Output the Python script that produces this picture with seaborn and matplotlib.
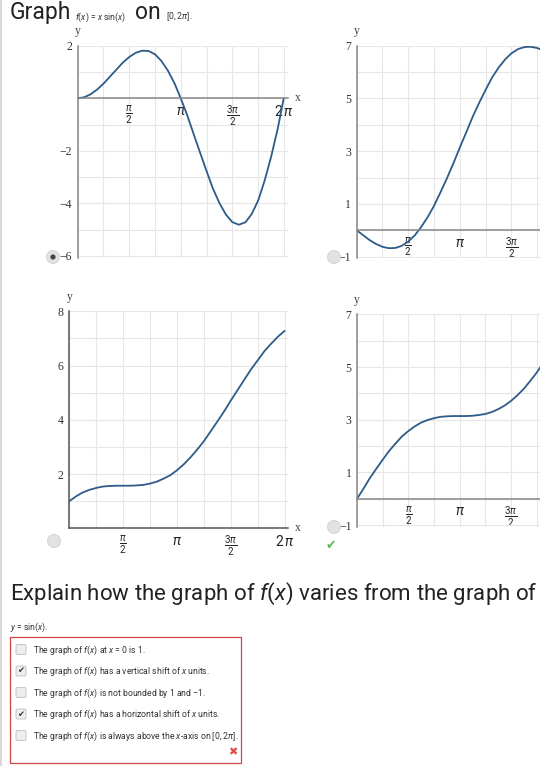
import numpy as np
import matplotlib.pyplot as plt
from matplotlib.patches import Circle, FancyBboxPatch, Rectangle
import seaborn as sns

# x positions along [0, 2pi] (steps of pi/16)
x_vals = [0.00, 0.20, 0.39, 0.59, 0.79, 0.98, 1.18, 1.37, 1.57, 1.77, 1.96,
          2.16, 2.36, 2.55, 2.75, 2.95, 3.14, 3.34, 3.53, 3.73, 3.93, 4.12,
          4.32, 4.52, 4.71, 4.91, 5.11, 5.30, 5.50, 5.69, 5.89, 6.09, 6.28]

# top-left graph
curve_a = [0.00, 0.04, 0.15, 0.33, 0.56, 0.82, 1.09, 1.35, 1.57, 1.73, 1.81,
           1.80, 1.67, 1.42, 1.05, 0.57, 0.00, -0.65, -1.35, -2.07, -2.78, -3.43,
           -3.99, -4.43, -4.71, -4.81, -4.72, -4.41, -3.89, -3.16, -2.25, -1.19, 0.00]
# top-right graph
curve_b = [0.00, -0.19, -0.37, -0.52, -0.63, -0.68, -0.67, -0.59, -0.43, -0.19, 0.12,
           0.50, 0.94, 1.44, 1.98, 2.56, 3.14, 3.73, 4.30, 4.84, 5.34, 5.79,
           6.17, 6.48, 6.71, 6.87, 6.95, 6.96, 6.91, 6.81, 6.66, 6.48, 6.28]
# bottom-left graph
curve_c = [1.00, 1.18, 1.32, 1.42, 1.49, 1.54, 1.56, 1.57, 1.57, 1.57, 1.58,
           1.60, 1.65, 1.72, 1.83, 1.96, 2.14, 2.36, 2.61, 2.90, 3.22, 3.57,
           3.94, 4.32, 4.71, 5.10, 5.49, 5.86, 6.20, 6.53, 6.81, 7.07, 7.28]
# bottom-right graph
curve_d = [0.00, 0.39, 0.78, 1.14, 1.49, 1.81, 2.10, 2.36, 2.57, 2.75, 2.89,
           2.99, 3.06, 3.11, 3.13, 3.14, 3.14, 3.14, 3.15, 3.18, 3.22, 3.29,
           3.40, 3.54, 3.71, 3.93, 4.18, 4.47, 4.79, 5.14, 5.51, 5.89, 6.28]

x_tick_pos = [np.pi / 2, np.pi, 3 * np.pi / 2, 2 * np.pi]
x_tick_labels = [r'$\frac{\pi}{2}$', r'$\pi$', r'$\frac{3\pi}{2}$', r'$2\,\pi$']

answers = [
    'The graph of $f$($x$) at $x$ = 0 is 1.',
    'The graph of $f$($x$) has a vertical shift of $x$ units.',
    'The graph of $f$($x$) is not bounded by 1 and \u22121.',
    'The graph of $f$($x$) has a horizontal shift of $x$ units.',
    'The graph of $f$($x$) is always above the $x$-axis on [0, 2$\\pi$].',
]
answer_checked = [False, True, False, True, False]

sns.set_style("white")
plt.rcParams['font.family'] = ['Roboto', 'DejaVu Sans']
plt.rcParams['mathtext.fontset'] = 'custom'
plt.rcParams['mathtext.rm'] = 'Roboto'
plt.rcParams['mathtext.it'] = 'Roboto:italic'
plt.rcParams['mathtext.bf'] = 'Roboto:bold'

W, H = 540, 766
LINE = '#2f5b88'
SERIF = ['Liberation Serif', 'DejaVu Serif']
SMALL = 6.2

fig = plt.figure(figsize=(W / 100, H / 100), dpi=100)


def px_rect(x0, y0, x1, y1):
    return [x0 / W, 1 - y1 / H, (x1 - x0) / W, (y1 - y0) / H]


def draw_graph(rect, y_vals, xmax, ylim, yticks, axis_color):
    ax = fig.add_axes(rect)
    sns.lineplot(x=x_vals, y=y_vals, ax=ax, color=LINE, linewidth=1.3,
                 estimator=None, sort=False, legend=False)
    ax.set_xlim(0, xmax)
    ax.set_ylim(*ylim)
    keep = [i for i, p in enumerate(x_tick_pos) if p <= xmax]
    ax.set_xticks([x_tick_pos[i] for i in keep])
    ax.set_xticks([k * np.pi / 4 for k in range(9) if k * np.pi / 4 <= xmax], minor=True)
    ax.set_yticks(yticks)
    ax.set_yticks(list(range(int(np.ceil(ylim[0])), int(ylim[1]) + 1)), minor=True)
    labels = []
    for i in keep:
        labels.append(x_tick_labels[i])
    ax.set_xticklabels(labels, math_fontfamily='stix', fontsize=5.2, color='#444')
    for t in ax.get_xticklabels():
        if '2\\,' in t.get_text():
            t.set_fontsize(8)
    ax.set_yticklabels([str(t).replace('-', '\u2212') for t in yticks],
                       family=SERIF, fontsize=8.5, color='#333')
    ax.grid(which='both', color='#e6e6e6', linewidth=0.8)
    ax.set_axisbelow(True)
    for s in ['top', 'right']:
        ax.spines[s].set_visible(False)
    ax.spines['bottom'].set_position(('data', 0))
    for s in ['left', 'bottom']:
        ax.spines[s].set_color(axis_color)
        ax.spines[s].set_linewidth(1.1)
    ax.tick_params(which='major', direction='inout', length=4, width=0.8,
                   color=axis_color, pad=2)
    ax.tick_params(which='minor', length=0)
    ax.set_xlabel('')
    ax.set_ylabel('')
    ax.annotate('y', xy=(0, ylim[1]), xytext=(0, 6), textcoords='offset points',
                ha='center', va='bottom', family=SERIF, fontsize=8.5, color='#444',
                annotation_clip=False)
    if xmax > 2 * np.pi:
        ax.annotate('x', xy=(xmax, 0), xytext=(5, 0), textcoords='offset points',
                    ha='left', va='center', family=SERIF, fontsize=8.5, color='#444',
                    annotation_clip=False)
    return ax


draw_graph(px_rect(77.7, 45.7, 287.7, 257.7), curve_a, 6.40, (-6.065, 2),
           [2, -2, -4, -6], '#888888')
draw_graph(px_rect(356.7, 45.7, 540, 257.7), curve_b, 5.58, (-1.04, 7),
           [7, 5, 3, 1, -1], '#888888')
draw_graph(px_rect(69.3, 311.3, 287.7, 528.3), curve_c, 6.37, (0, 8),
           [8, 6, 4, 2], '#555555')
draw_graph(px_rect(357, 314.3, 540, 526.5), curve_d, 5.60, (-1.05, 7),
           [7, 5, 3, 1, -1], '#888888')

# page overlay in pixel coordinates
ov = fig.add_axes([0, 0, 1, 1], zorder=5)
ov.set_xlim(0, W)
ov.set_ylim(H, 0)
ov.axis('off')
ov.patch.set_alpha(0)

ov.plot([1, 1], [0, H], color='#d9d9d9', linewidth=1.5)

ov.text(10, 19, 'Graph', fontsize=16.5, color='#222', va='baseline')
ov.text(75, 19.5, '$f$($x$) = $x$ sin($x$)', fontsize=SMALL, color='#333', va='baseline')
ov.text(135, 19, 'on', fontsize=16.5, color='#222', va='baseline')
ov.text(166, 19.5, '[0, 2$\\pi$].', fontsize=SMALL, color='#333', va='baseline')

# radio buttons
for (cx, cy) in [(53, 257), (334, 257), (54, 541), (334, 527)]:
    ov.add_patch(Circle((cx, cy), 6.5, facecolor='#e2e2e2', edgecolor='#d0d0d0', lw=0.6))
ov.add_patch(Circle((53, 257), 2.6, facecolor='#444444', edgecolor='none'))
ov.text(331, 545, '\u2714', family='DejaVu Sans', fontsize=9, color='#5cb85c',
        ha='center', va='center')

ov.text(10, 600, 'Explain how the graph of $f$($x$) varies from the graph of',
        fontsize=16, color='#222', va='baseline')
ov.text(10, 630, '$y$ = sin($x$).', fontsize=SMALL, color='#333', va='baseline')

ov.add_patch(Rectangle((10, 637), 231, 126, facecolor='white', edgecolor='#cf4444', lw=0.9))
for i, (txt, chk) in enumerate(zip(answers, answer_checked)):
    cy = 650 + i * 21.5
    ov.add_patch(FancyBboxPatch((16, cy - 5.5), 10, 10,
                                boxstyle='round,pad=0,rounding_size=1.5',
                                facecolor='#eeeeee', edgecolor='#bdbdbd', lw=0.6))
    if chk:
        ov.text(21, cy - 0.5, '\u2714', family='DejaVu Sans', fontsize=6,
                color='#333', ha='center', va='center')
    ov.text(33, cy + 2.5, txt, fontsize=SMALL, color='#333', va='baseline')
ov.text(233, 752, '\u2716', family='DejaVu Sans', fontsize=8, color='#e04c4c',
        ha='center', va='center')

fig.savefig('out.png', dpi=100)
